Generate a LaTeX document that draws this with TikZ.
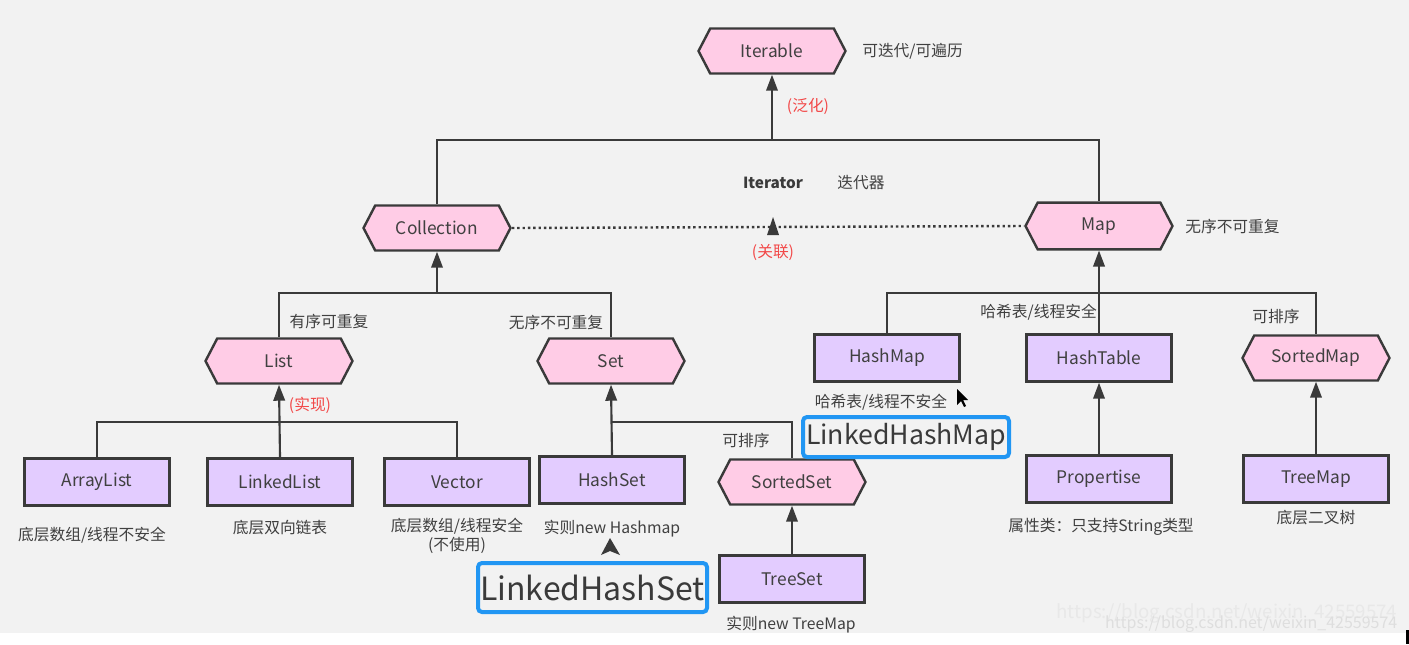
\documentclass[tikz,border=0pt]{standalone}
\usepackage{fontspec}
\setmainfont{Noto Sans CJK SC}
\usetikzlibrary{shapes.symbols,arrows.meta}
\definecolor{bg}{HTML}{F2F2F2}
\definecolor{ink}{HTML}{3A3A3A}
\definecolor{txt}{HTML}{404040}
\definecolor{pinkfill}{HTML}{FFCCE6}
\definecolor{lilac}{HTML}{E3CCFF}
\definecolor{redlab}{HTML}{F24848}
\definecolor{bluebox}{HTML}{2196F3}
\begin{document}
\begin{tikzpicture}[x = 0.75pt, y = -0.75pt,
  hexbox/.style = {shape = signal, signal to = west and east, signal pointer angle = 125, draw = ink, line width = 1.8pt, fill = pinkfill, text = txt, font = \fontsize{13}{15}\selectfont, minimum width = 110.25pt, minimum height = 33.75pt, inner sep = 0pt},
  classbox/.style = {rectangle, draw = ink, line width = 1.8pt, fill = lilac, text = txt, font = \fontsize{13}{15}\selectfont, minimum width = 108.75pt, minimum height = 35.25pt, inner sep = 0pt},
  note/.style = {text = txt, font = \fontsize{11.8}{14}\selectfont, inner sep = 0pt},
  relnote/.style = {text = redlab, font = \fontsize{11.8}{14}\selectfont, inner sep = 0pt},
  bigname/.style = {draw = bluebox, line width = 3pt, rounded corners = 3pt, text = ink, inner sep = 0pt},
  conn/.style = {draw = ink, line width = 1.6pt},
  inherit/.style = {conn, -{Triangle[length = 12pt, width = 8.6pt]}},
  assoc/.style = {draw = ink, line width = 1.8pt, dash pattern = on 1.8pt off 2.2pt}]

\fill[bg] (0, 0) rectangle (1409, 633);
\fill[white!98!bg] (0, 633) rectangle (1409, 644);
\useasboundingbox (0, 0) rectangle (1409, 644);
\fill[black] (1406, 630) rectangle (1409, 644);

\node[hexbox] (Iterable) at (772, 51){Iterable};
\node[hexbox] (Collection) at (437, 228){Collection};
\node[hexbox, minimum height = 35pt] (Map) at (1099, 226){Map};
\node[hexbox] (List) at (279, 361){List};
\node[hexbox] (Set) at (611, 361){Set};
\node[hexbox] (SortedSet) at (792, 482){SortedSet};
\node[hexbox] (SortedMap) at (1316, 358){SortedMap};
\node[classbox] (ArrayList) at (97, 482){ArrayList};
\node[classbox] (LinkedList) at (280, 482){LinkedList};
\node[classbox] (Vector) at (457, 482){Vector};
\node[classbox] (HashSet) at (612, 480){HashSet};
\node[classbox] (TreeSet) at (792, 579){TreeSet};
\node[classbox] (HashMap) at (887, 358){HashMap};
\node[classbox] (HashTable) at (1099, 358){HashTable};
\node[classbox] (Propertise) at (1099, 479){Propertise};
\node[classbox] (TreeMap) at (1316, 479){TreeMap};

\coordinate (topBus) at (772, 140);
\coordinate (colBus) at (437, 293);
\coordinate (listBus) at (280, 422);
\coordinate (mapBus) at (1099, 293);

\draw[conn] (Collection.north) |- (topBus) -| (Map.north);
\draw[inherit] (topBus) -- (Iterable.south);
\draw[assoc] (Collection.east) -- (Map.west);
\draw[conn] (List.north) |- (colBus) -| (Set.north);
\draw[inherit] (colBus) -- (Collection.south);
\draw[conn] (ArrayList.north) |- (listBus) -| (Vector.north);
\draw[inherit] (LinkedList.north) -- (List.south);
\draw[inherit] (HashSet.north) -- (Set.south);
\draw[conn] (Set.south |- listBus) -| (SortedSet.north);
\draw[inherit] (TreeSet.north) -- (SortedSet.south);
\draw[conn] (HashMap.north) |- (mapBus) -| (SortedMap.north);
\draw[inherit] (HashTable.north) -- (Map.south);
\draw[inherit] (Propertise.north) -- (HashTable.south);
\draw[inherit] (TreeMap.north) -- (SortedMap.south);

\fill[ink] (773, 217) -- (779, 235) -- (767, 235) -- cycle;
\fill[ink] (610, 538) -- (620, 555) -- (610, 551) -- (601, 555) -- cycle;
\fill[black] (957, 389) -- (957, 405) -- (961, 401) -- (964, 407) -- (966, 406) -- (963, 400) -- (968, 400) -- cycle;

\node[note, anchor = west] (iterNote) at (862, 51){可迭代/可遍历};
\node[relnote] (genNote) at (808, 106){(泛化)};
\node[text = ink, font = \fontsize{11.5}{14}\selectfont\bfseries] (Iterator) at (773, 183){Iterator};
\node[note] (iterCn) at (861, 183){迭代器};
\node[relnote] (assocNote) at (773, 252){(关联)};
\node[note, anchor = west] (mapNote) at (1185, 226){无序不可重复};
\node[note] (listNote) at (329, 321){有序可重复};
\node[note] (setNote) at (556, 322){无序不可重复};
\node[relnote] (implNote) at (310, 405){(实现)};
\node[note] (arrNote) at (92, 535){底层数组/线程不安全};
\node[note] (linkNote) at (280, 528){底层双向链表};
\node[note, align = center] (vecNote) at (457, 536){底层数组/线程安全\\(不使用)};
\node[note] (hsetNote) at (612, 529){实则new Hashmap};
\node[note] (ssetNote) at (746, 440){可排序};
\node[note] (tsetNote) at (791, 625){实则new TreeMap};
\node[note, anchor = east] (htabNote) at (1097, 312){哈希表/线程安全};
\node[note] (smapNote) at (1276, 316){可排序};
\node[note] (hmapNote) at (881, 402){哈希表/线程不安全};
\node[note] (propNote) at (1101, 527){属性类：只支持String类型};
\node[note] (tmapNote) at (1316, 518){底层二叉树};

\node[bigname, minimum width = 171.75pt, minimum height = 36.75pt, font = \fontsize{24}{28}\selectfont] (LinkedHashSet) at (592.5, 587.5){LinkedHashSet};
\node[bigname, minimum width = 154.5pt, minimum height = 30pt, font = \fontsize{20}{24}\selectfont] (LinkedHashMap) at (906, 437){LinkedHashMap};

\node[text = black!9, font = \fontsize{14}{16}\selectfont, anchor = east] (mark1) at (1402, 613){https://blog.csdn.net/weixin\_42559574};
\node[text = black!13, font = \fontsize{12}{14}\selectfont, anchor = east] (mark2) at (1402, 624){https://blog.csdn.net/weixin\_42559574};
\end{tikzpicture}
\end{document}
